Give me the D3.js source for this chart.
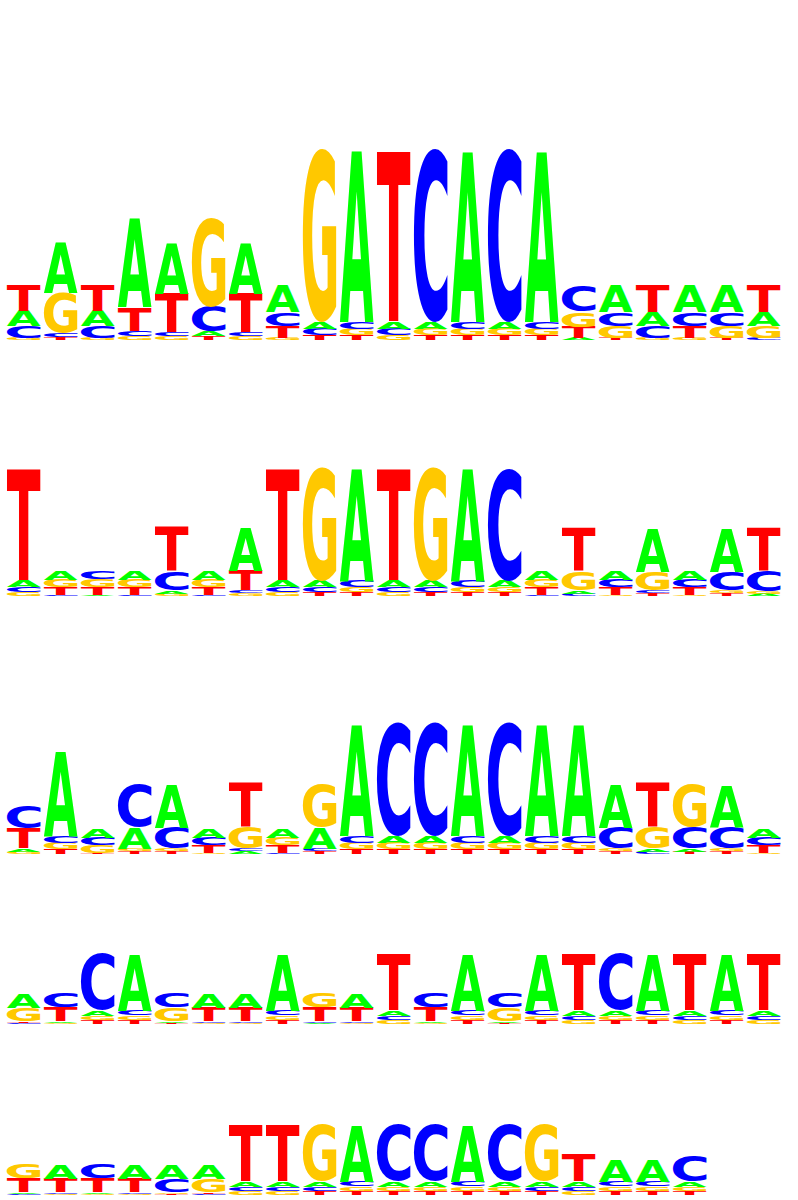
<!DOCTYPE html>
<html>
<head>
<meta charset="utf-8">
<script src="https://cdn.jsdelivr.net/npm/d3@7"></script>
<style>
  html, body { margin: 0; padding: 0; background: #fff; }
  svg { display: block; }
</style>
</head>
<body>
<svg id="chart" width="798" height="1200"></svg>
<script>
// ---- Data: information (bits) contributed by each base at each position ----
const letters = ["A", "C", "G", "T"];

// Motif 1 (21 positions)
const m1_A = [0.15,0.51,0.15,0.88,0.51,0.045,0.51,0.27,0.07,1.70,0.07,0.07,1.69,0.07,1.69,0.02,0.27,0.14,0.27,0.27,0.14];
const m1_C = [0.12,0.04,0.12,0.05,0.04,0.25,0.04,0.14,0.06,0.07,0.06,1.73,0.07,1.73,0.07,0.26,0.14,0.12,0.14,0.14,0.02];
const m1_G = [0.02,0.40,0.02,0.04,0.035,0.90,0.035,0.02,1.73,0.06,0.05,0.06,0.06,0.06,0.06,0.15,0.12,0.02,0.02,0.12,0.12];
const m1_T = [0.26,0.03,0.26,0.24,0.39,0.04,0.39,0.12,0.05,0.05,1.70,0.05,0.05,0.05,0.05,0.11,0.02,0.27,0.12,0.02,0.27];

// Motif 2 (21 positions)
const m2_A = [0.06,0.085,0.01,0.085,0.03,0.085,0.43,0.06,0.06,1.12,0.06,0.06,1.12,0.06,0.085,0.03,0.085,0.43,0.085,0.43,0.02];
const m2_C = [0.05,0.01,0.085,0.01,0.19,0.01,0.03,0.05,0.05,0.06,0.05,0.05,0.06,1.13,0.01,0.025,0.08,0.03,0.08,0.19,0.20];
const m2_G = [0.04,0.08,0.08,0.08,0.025,0.08,0.025,0.04,1.14,0.05,0.04,1.14,0.05,0.05,0.08,0.19,0.01,0.19,0.01,0.03,0.03];
const m2_T = [1.12,0.075,0.075,0.075,0.44,0.075,0.20,1.12,0.04,0.04,1.12,0.04,0.04,0.04,0.075,0.43,0.075,0.025,0.075,0.025,0.43];

// Motif 3 (21 positions)
const m3_A = [0.03,0.85,0.085,0.21,0.43,0.085,0.025,0.085,0.21,1.10,0.07,0.07,1.10,0.07,1.10,1.10,0.43,0.03,0.03,0.41,0.085];
const m3_C = [0.23,0.07,0.08,0.43,0.21,0.08,0.03,0.01,0.03,0.07,1.14,1.14,0.07,1.14,0.07,0.07,0.21,0.025,0.21,0.21,0.08];
const m3_G = [0.025,0.06,0.075,0.03,0.03,0.01,0.21,0.08,0.43,0.06,0.06,0.06,0.06,0.06,0.06,0.06,0.03,0.21,0.43,0.03,0.01];
const m3_T = [0.20,0.05,0.01,0.025,0.025,0.075,0.44,0.075,0.025,0.05,0.05,0.05,0.05,0.05,0.05,0.05,0.025,0.44,0.025,0.025,0.075];

// Motif 4 (21 positions)
const m4_A = [0.145,0.015,0.05,0.56,0.015,0.145,0.145,0.56,0.01,0.145,0.05,0.015,0.56,0.015,0.56,0.05,0.05,0.56,0.05,0.56,0.05];
const m4_C = [0.01,0.145,0.57,0.05,0.145,0.015,0.015,0.05,0.015,0.015,0.045,0.145,0.05,0.145,0.05,0.045,0.57,0.05,0.045,0.05,0.045];
const m4_G = [0.14,0.01,0.045,0.045,0.14,0.01,0.01,0.045,0.145,0.01,0.04,0.01,0.045,0.14,0.045,0.04,0.045,0.045,0.04,0.045,0.04];
const m4_T = [0.015,0.14,0.04,0.04,0.01,0.14,0.14,0.04,0.14,0.14,0.56,0.14,0.04,0.01,0.04,0.56,0.04,0.04,0.56,0.04,0.56];

// Motif 5 (19 positions)
const m5_A = [0.015,0.145,0.015,0.145,0.145,0.145,0.05,0.05,0.05,0.56,0.05,0.05,0.56,0.05,0.05,0.05,0.22,0.22,0.05];
const m5_C = [0.01,0.015,0.145,0.015,0.14,0.01,0.045,0.045,0.045,0.05,0.57,0.57,0.05,0.57,0.045,0.045,0.05,0.05,0.26];
const m5_G = [0.145,0.01,0.01,0.01,0.015,0.14,0.04,0.04,0.57,0.045,0.045,0.045,0.045,0.045,0.57,0.04,0.045,0.045,0.045];
const m5_T = [0.14,0.14,0.14,0.14,0.01,0.015,0.56,0.56,0.04,0.04,0.04,0.04,0.04,0.04,0.04,0.27,0.04,0.04,0.04];

const motifs = [
  { A: m1_A, C: m1_C, G: m1_G, T: m1_T },
  { A: m2_A, C: m2_C, G: m2_G, T: m2_T },
  { A: m3_A, C: m3_C, G: m3_G, T: m3_T },
  { A: m4_A, C: m4_C, G: m4_G, T: m4_T },
  { A: m5_A, C: m5_C, G: m5_G, T: m5_T }
];

// ---- Styling / layout ----
const colors = { A: "#00FF00", C: "#0000FF", G: "#FFC800", T: "#FF0000" };
const baselines = [340, 596, 854, 1024, 1195];
const pxPerBit = 100;
const colStep = 37;
const xStart = 5;
const FONT = "'DejaVu Sans', 'Liberation Sans', sans-serif";
const FS = 200;

// glyph ink metrics via canvas
const cvs = document.createElement("canvas");
const ctx = cvs.getContext("2d");
ctx.font = `bold ${FS}px ${FONT}`;
const metrics = {};
letters.forEach(L => {
  const m = ctx.measureText(L);
  metrics[L] = {
    left: m.actualBoundingBoxLeft,
    right: m.actualBoundingBoxRight,
    ascent: m.actualBoundingBoxAscent,
    descent: m.actualBoundingBoxDescent
  };
});

const svg = d3.select("#chart");

motifs.forEach((motif, r) => {
  const n = motif.A.length;
  const x = d3.scaleBand()
    .domain(d3.range(n))
    .range([xStart, xStart + colStep * n])
    .paddingInner(0.09)
    .paddingOuter(0.045);
  const y = d3.scaleLinear()
    .domain([0, 2])
    .range([baselines[r], baselines[r] - 2 * pxPerBit]);

  // build stacked letters (smallest at bottom, largest on top)
  const cells = [];
  d3.range(n).forEach(i => {
    const col = letters.map(L => ({ L, v: motif[L][i] }))
      .sort((a, b) => a.v - b.v);
    let acc = 0;
    col.forEach(d => {
      cells.push({ i, L: d.L, y0: acc, y1: acc + d.v });
      acc += d.v;
    });
  });

  const g = svg.append("g").attr("class", "logo-row");
  g.selectAll("text")
    .data(cells.filter(d => y(d.y0) - y(d.y1) > 0.2))
    .join("text")
    .attr("x", 0)
    .attr("y", 0)
    .attr("font-family", FONT)
    .attr("font-weight", "bold")
    .attr("font-size", FS)
    .attr("fill", d => colors[d.L])
    .attr("transform", d => {
      const m = metrics[d.L];
      const w = x.bandwidth();
      const h = y(d.y0) - y(d.y1);
      const sx = w / (m.left + m.right);
      const sy = h / (m.ascent + m.descent);
      return `translate(${x(d.i)},${y(d.y1)}) scale(${sx},${sy}) translate(${m.left},${m.ascent})`;
    })
    .text(d => d.L);
});
</script>
</body>
</html>
